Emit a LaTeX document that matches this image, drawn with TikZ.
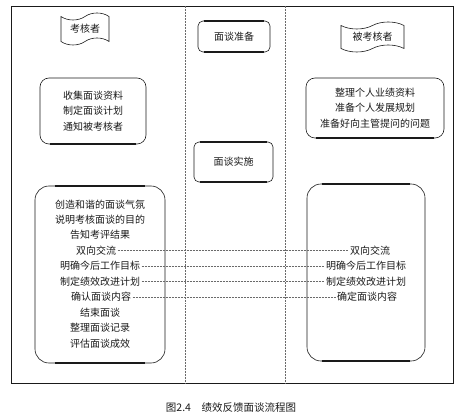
\documentclass[tikz,border=0pt]{standalone}
\usepackage{fontspec}
\setmainfont{Noto Sans CJK SC}
\usepackage{xcolor}
\usetikzlibrary{shapes.symbols,positioning}
\definecolor{Ink}{HTML}{1A1A1A}
\definecolor{Rule}{HTML}{6A6A6A}

\begin{document}
\begin{tikzpicture}[x=1pt,y=-1pt,
  every node/.style={font=\fontsize{10}{15.6}\selectfont,text=Ink},
  frame/.style={draw=Ink,line width=0.8pt},
  lane/.style={draw=Rule,densely dotted,line width=0.5pt},
  actor/.style={tape,draw=Ink,line width=0.6pt,tape bend height=7pt,inner sep=2pt},
  stage/.style={draw=Ink,line width=0.6pt,rounded corners=5pt,align=center},
  task/.style={draw=Ink,line width=0.6pt,rounded corners=9pt,align=center},
  item/.style={inner sep=1.5pt},
  bar/.style={draw=Ink,line width=2.2pt},
  link/.style={draw=Rule,densely dotted,line width=0.5pt}
]
\useasboundingbox (0,0) rectangle (463,419);
\draw[frame] (11,6) rectangle (453,383);
\coordinate (lanea top) at (185,6);
\coordinate (lanea bottom) at (185,383);
\coordinate (laneb top) at (285,6);
\coordinate (laneb bottom) at (285,383);
\draw[lane] (lanea top) -- (lanea bottom);
\draw[lane] (laneb top) -- (laneb bottom);

\node[actor,minimum width=48pt,minimum height=32pt] (rater) at (85,29) {考核者};
\node[actor,minimum width=63pt,minimum height=30pt] (ratee) at (372.5,37) {被考核者};
\node[stage,minimum width=72pt,minimum height=31pt] (prep) at (234,36.5) {面谈准备};
\node[stage,minimum width=79pt,minimum height=40pt] (impl) at (233.5,162) {面谈实施};
\node[task,minimum width=106pt,minimum height=66pt] (raterprep) at (93,111) {收集面谈资料\\制定面谈计划\\通知被考核者};
\node[task,minimum width=138pt,minimum height=60pt] (rateeprep) at (375,108) {整理个人业绩资料\\准备个人发展规划\\准备好向主管提问的问题};
\node[task,rounded corners=14pt,minimum width=130pt,minimum height=177pt] (raterimpl) at (100,274.5) {};
\node[task,rounded corners=14pt,minimum width=118pt,minimum height=177pt] (rateeimpl) at (366,272.5) {};

\draw[bar] ([xshift=6pt]prep.north west) -- ([xshift=-6pt]prep.north east);
\draw[bar] ([xshift=6pt]prep.south west) -- ([xshift=-6pt]prep.south east);
\draw[bar] ([xshift=6pt]impl.north west) -- ([xshift=-6pt]impl.north east);
\draw[bar] ([xshift=6pt]impl.south west) -- ([xshift=-6pt]impl.south east);
\draw[bar] ([xshift=10pt]raterprep.south west) -- ([xshift=-10pt]raterprep.south east);
\draw[bar] ([xshift=10pt]rateeprep.south west) -- ([xshift=-10pt]rateeprep.south east);
\draw[bar] ([xshift=20pt]raterimpl.north west) -- ([xshift=-20pt]raterimpl.north east);
\draw[bar] ([xshift=20pt]raterimpl.south west) -- ([xshift=-20pt]raterimpl.south east);
\draw[bar] ([xshift=15pt]rateeimpl.north west) -- ([xshift=-15pt]rateeimpl.north east);
\draw[bar] ([xshift=15pt]rateeimpl.south west) -- ([xshift=-15pt]rateeimpl.south east);

\node[item] (mood) at (100,205) {创造和谐的面谈气氛};
\node[item] (aim) at (100,220) {说明考核面谈的目的};
\node[item] (result) at (100,235) {告知考评结果};
\node[item] (talk) at (96,250.5) {双向交流};
\node[item] (goal) at (100,266) {明确今后工作目标};
\node[item] (plan) at (100,281.5) {制定绩效改进计划};
\node[item] (check) at (101,297) {确认面谈内容};
\node[item] (close) at (100,312.5) {结束面谈};
\node[item] (record) at (100,328) {整理面谈记录};
\node[item] (assess) at (100,343.5) {评估面谈成效};

\node[item] (talkb) at (370,250.5) {双向交流};
\node[item] (goalb) at (366,266) {明确今后工作目标};
\node[item] (planb) at (366,281.5) {制定绩效改进计划};
\node[item] (checkb) at (367,297) {确定面谈内容};

\draw[link] (talk.east) -- (talkb.west);
\draw[link] (goal.east) -- (goalb.west);
\draw[link] (plan.east) -- (planb.west);
\draw[link] (check.east) -- (checkb.west);

\node[font=\fontsize{10.5}{12}\selectfont] (caption) at (231,408) {图2.4\quad 绩效反馈面谈流程图};
\end{tikzpicture}
\end{document}
